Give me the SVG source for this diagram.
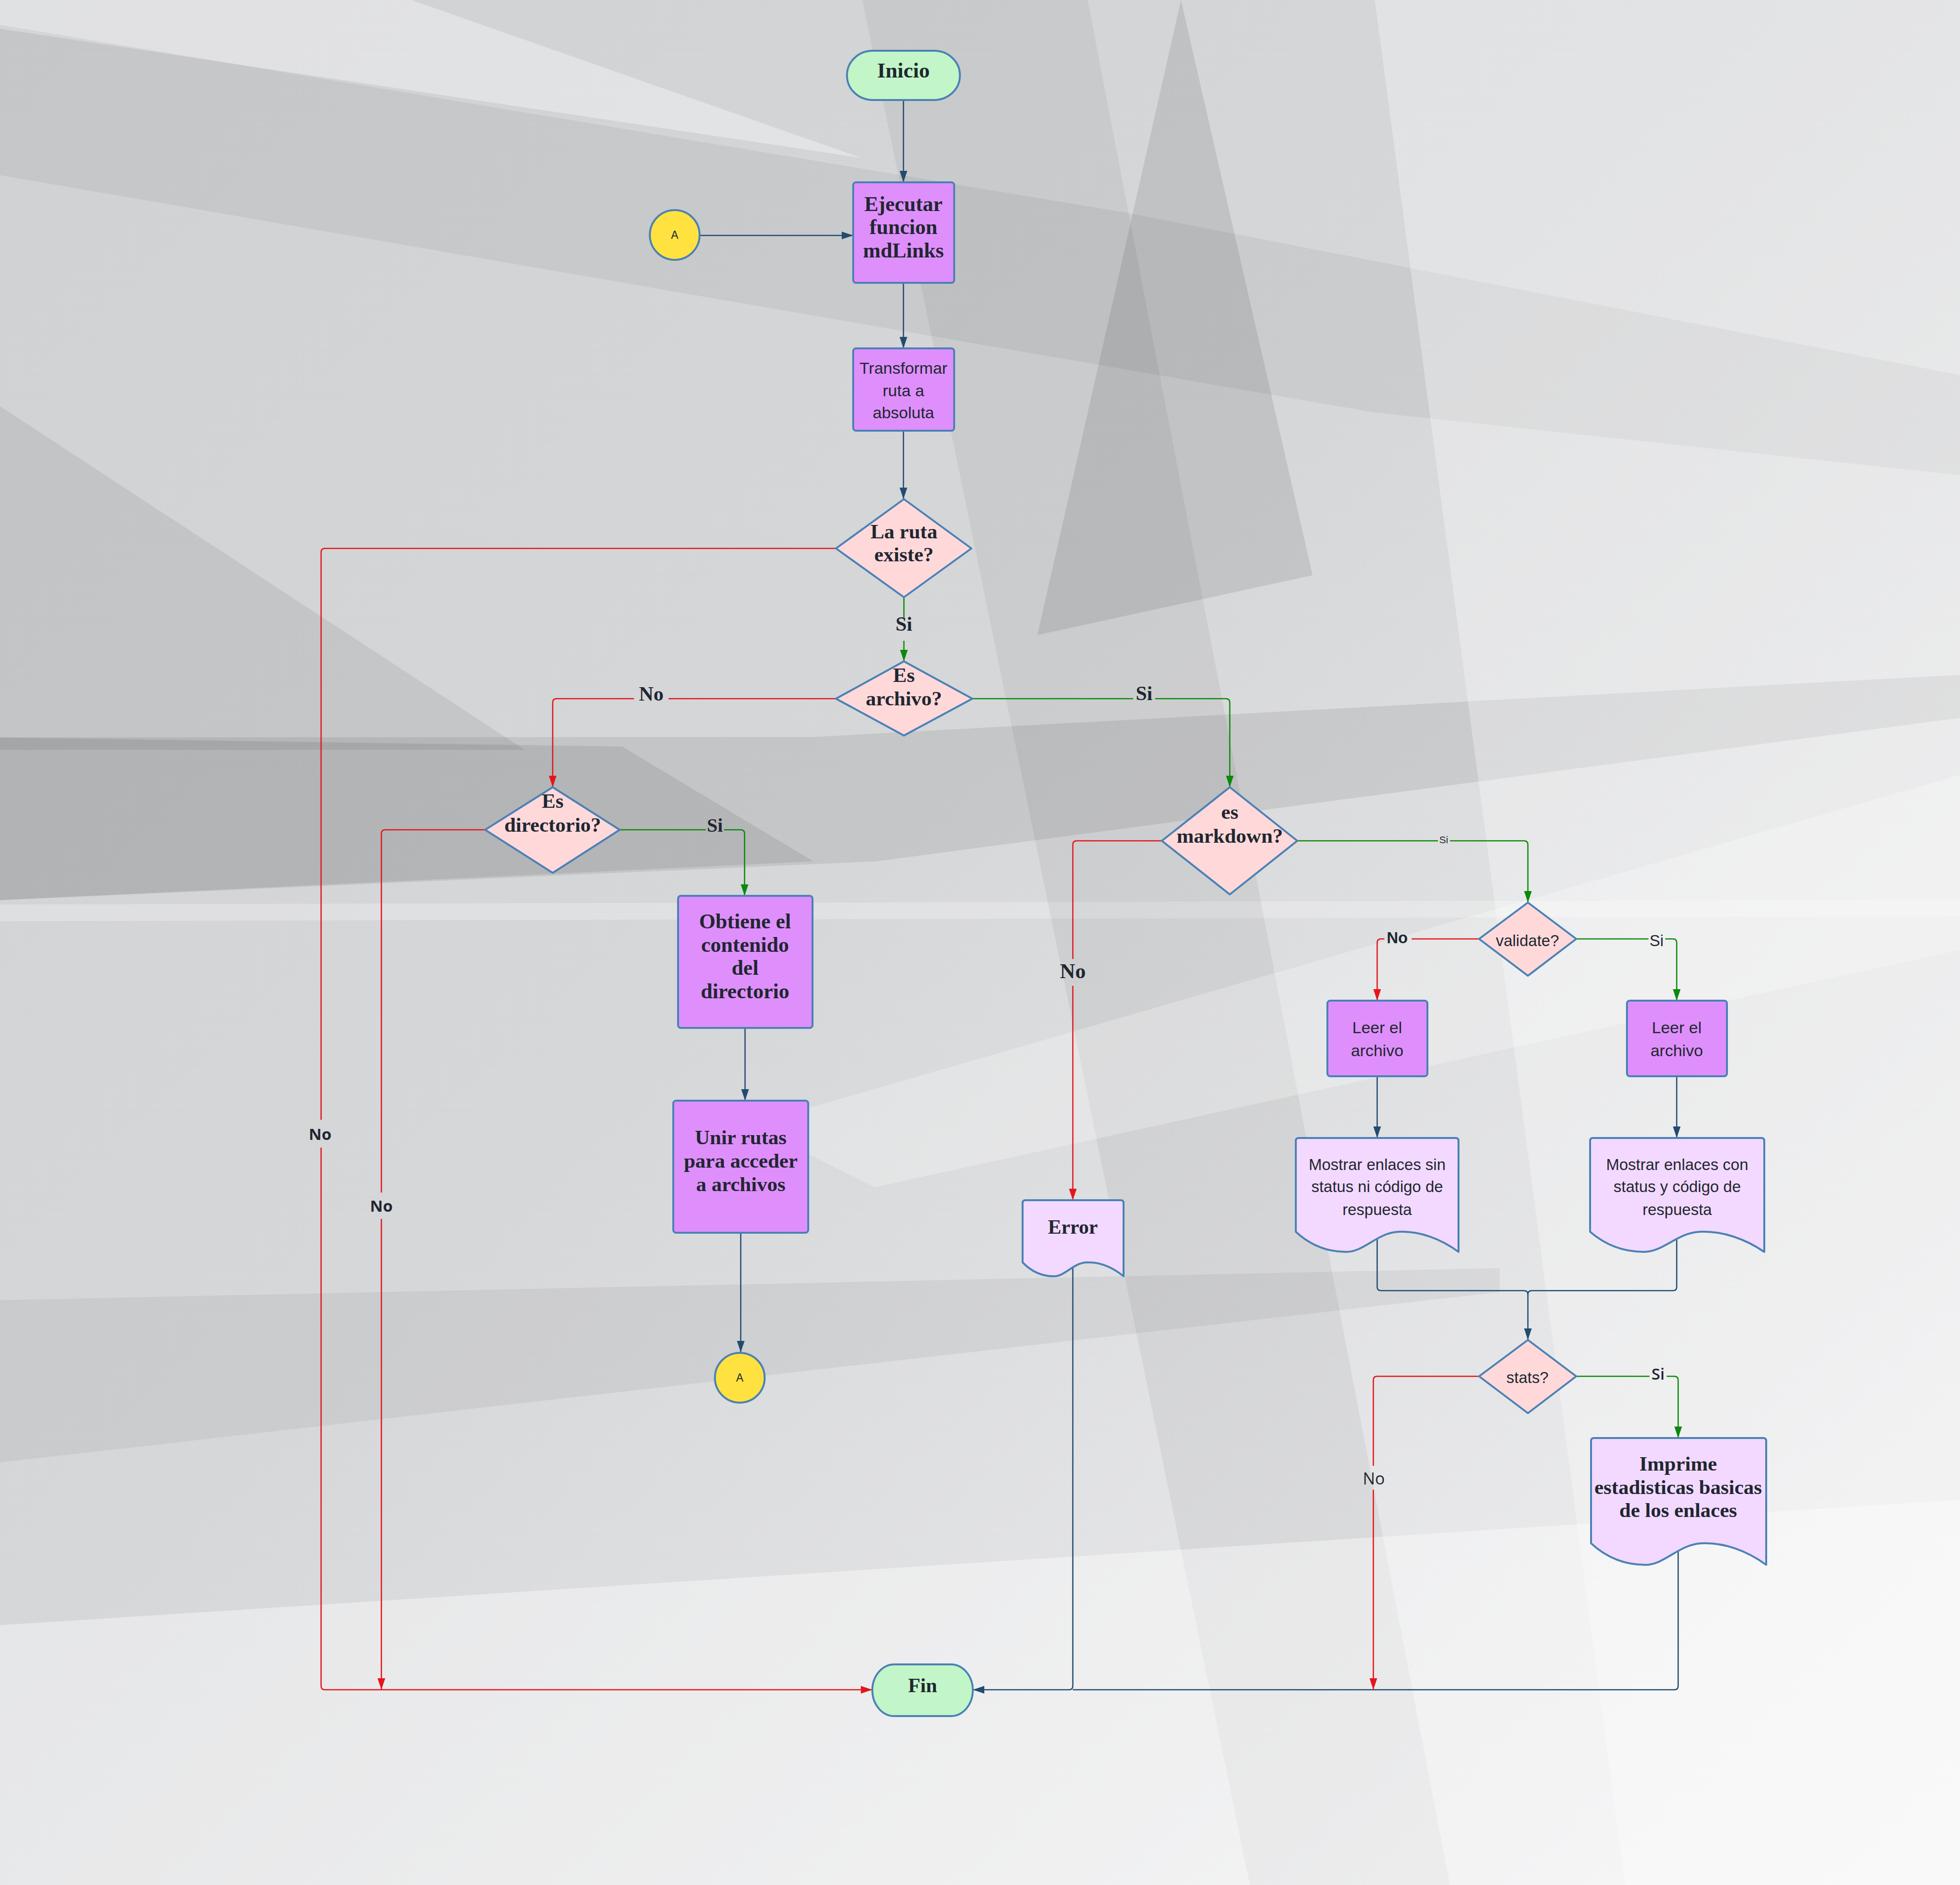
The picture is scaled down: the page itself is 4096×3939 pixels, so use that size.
<svg xmlns="http://www.w3.org/2000/svg" width="4096" height="3939" viewBox="0 0 4096 3939">
<defs>
<linearGradient id="bg" x1="0" y1="0" x2="1" y2="1">
<stop offset="0" stop-color="#d0d1d3"/>
<stop offset="0.45" stop-color="#d6d7d9"/>
<stop offset="1" stop-color="#f2f2f3"/>
</linearGradient>
<marker id="ab" markerUnits="userSpaceOnUse" markerWidth="24" markerHeight="16" refX="24" refY="8" orient="auto"><path d="M0,0 L24,8 L0,16 z" fill="#224b70"/></marker>
<marker id="ar" markerUnits="userSpaceOnUse" markerWidth="24" markerHeight="16" refX="24" refY="8" orient="auto"><path d="M0,0 L24,8 L0,16 z" fill="#e5151a"/></marker>
<marker id="ag" markerUnits="userSpaceOnUse" markerWidth="24" markerHeight="16" refX="24" refY="8" orient="auto"><path d="M0,0 L24,8 L0,16 z" fill="#0a890a"/></marker>
</defs>
<style>
.term{fill:#c2f5c7;stroke:#4a81b5;stroke-width:4}
.proc{fill:#df8ffc;stroke:#4a81b5;stroke-width:4}
.dec{fill:#ffd9da;stroke:#4a81b5;stroke-width:4;stroke-linejoin:round}
.doc{fill:#f3d9ff;stroke:#4a81b5;stroke-width:4;stroke-linejoin:round}
.con{fill:#ffe240;stroke:#4a81b5;stroke-width:4}
.tb{font-family:"Liberation Serif","DejaVu Serif",serif;font-weight:bold;fill:#1f2731;text-anchor:middle}
.ts{font-family:"Liberation Sans","DejaVu Sans",sans-serif;fill:#1f2731;text-anchor:middle}
.to{font-family:"Open Sans","Liberation Sans",sans-serif;fill:#1f2731;text-anchor:middle}
.lb{fill:none;stroke:#224b70;stroke-width:2.6}
.lr{fill:none;stroke:#e5151a;stroke-width:2.6}
.lg{fill:none;stroke:#0a890a;stroke-width:2.6}
</style>
<g id="background">
<rect x="0" y="0" width="4096" height="3939" fill="url(#bg)"/>
<polygon points="0,0 860,0 1800,330 0,60" fill="#ffffff" opacity="0.35"/>
<polygon points="0,52 0,366 2873,862 4096,993 4096,784 2351,444" fill="#000000" opacity="0.05"/>
<polygon points="0,849 0,1567 1097,1567" fill="#000000" opacity="0.07"/>
<polygon points="0,1541 0,1881 1830,1800 4096,1500 4096,1410 1700,1540" fill="#000000" opacity="0.08"/>
<polygon points="0,1541 0,1881 1700,1800 1300,1560" fill="#000000" opacity="0.08"/>
<polygon points="0,1890 4096,1880 4096,1915 0,1925" fill="#ffffff" opacity="0.25"/>
<polygon points="1802,0 2273,0 3030,3939 2612,3939" fill="#000000" opacity="0.05"/>
<polygon points="2468,0 2168,1327 2743,1202" fill="#000000" opacity="0.09"/>
<polygon points="2873,0 4096,0 4096,3939 3396,3939" fill="#ffffff" opacity="0.3"/>
<polygon points="1567,2351 4096,1619 4096,1985 1828,2481" fill="#ffffff" opacity="0.25"/>
<polygon points="0,2717 0,3056 3134,2700 3134,2650" fill="#000000" opacity="0.05"/>
<polygon points="0,3396 4096,3134 4096,3939 0,3939" fill="#ffffff" opacity="0.4"/>
</g>
<g id="connectors">
<path class="lb" d="M1888,209 V381" marker-end="url(#ab)"/>
<path class="lb" d="M1463,492 H1783" marker-end="url(#ab)"/>
<path class="lb" d="M1888,591 V728" marker-end="url(#ab)"/>
<path class="lb" d="M1888,900 V1043" marker-end="url(#ab)"/>
<path class="lb" d="M1557,2148 V2300" marker-end="url(#ab)"/>
<path class="lb" d="M1548,2576 V2826" marker-end="url(#ab)"/>
<path class="lb" d="M2878,2249 V2378" marker-end="url(#ab)"/>
<path class="lb" d="M3504,2249 V2378" marker-end="url(#ab)"/>
<path class="lb" d="M2878,2590 V2689 Q2878,2697 2886,2697 H3185 Q3193,2697 3193,2705 V2800" marker-end="url(#ab)"/>
<path class="lb" d="M3504,2585 V2689 Q3504,2697 3496,2697 H3201 Q3193,2697 3193,2705"/>
<path class="lb" d="M3507,3235 V3523 Q3507,3531 3499,3531 H2242"/>
<path class="lb" d="M2242,2645 V3523 Q2242,3531 2234,3531 H2033" marker-end="url(#ab)"/>
<path class="lr" d="M1747,1146 H679 Q671,1146 671,1154 V2340"/>
<path class="lr" d="M671,2398 V3523 Q671,3531 679,3531 H1823" marker-end="url(#ar)"/>
<path class="lr" d="M1747,1460 H1397"/>
<path class="lr" d="M1325,1460 H1163 Q1155,1460 1155,1468 V1645" marker-end="url(#ar)"/>
<path class="lr" d="M1014,1734 H805 Q797,1734 797,1742 V2492"/>
<path class="lr" d="M797,2547 V3531" marker-end="url(#ar)"/>
<path class="lr" d="M2428,1757 H2250 Q2242,1757 2242,1765 V2004"/>
<path class="lr" d="M2242,2060 V2508" marker-end="url(#ar)"/>
<path class="lr" d="M3091,1962 H2950"/>
<path class="lr" d="M2893,1962 H2886 Q2878,1962 2878,1970 V2091" marker-end="url(#ar)"/>
<path class="lr" d="M3091,2876 H2878 Q2870,2876 2870,2884 V3063"/>
<path class="lr" d="M2870,3113 V3531" marker-end="url(#ar)"/>
<path class="lg" d="M1889,1248 V1290"/>
<path class="lg" d="M1889,1339 V1382" marker-end="url(#ag)"/>
<path class="lg" d="M2032,1460 H2368"/>
<path class="lg" d="M2414,1460 H2562 Q2570,1460 2570,1468 V1645" marker-end="url(#ag)"/>
<path class="lg" d="M1295,1734 H1475"/>
<path class="lg" d="M1513,1734 H1548 Q1556,1734 1556,1742 V1872" marker-end="url(#ag)"/>
<path class="lg" d="M2711,1757 H3005"/>
<path class="lg" d="M3030,1757 H3185 Q3193,1757 3193,1765 V1886" marker-end="url(#ag)"/>
<path class="lg" d="M3294,1962 H3445"/>
<path class="lg" d="M3480,1962 H3496 Q3504,1962 3504,1970 V2091" marker-end="url(#ag)"/>
<path class="lg" d="M3294,2876 H3447"/>
<path class="lg" d="M3483,2876 H3499 Q3507,2876 3507,2884 V3005" marker-end="url(#ag)"/>
<text class="tb" x="1889" y="1318" font-size="42">Si</text>
<text class="tb" x="2391" y="1463" font-size="42">Si</text>
<text class="tb" x="1361" y="1464" font-size="42">No</text>
<text class="tb" x="1494" y="1738" font-size="40">Si</text>
<text class="to" x="669" y="2382" font-size="33" font-weight="bold">No</text>
<text class="to" x="797" y="2532" font-size="33" font-weight="bold">No</text>
<text class="tb" x="2242" y="2044" font-size="44">No</text>
<text class="ts" x="3017" y="1762" font-size="21">Si</text>
<text class="ts" x="2920" y="1971" font-size="33" font-weight="bold">No</text>
<text class="ts" x="3462" y="1977" font-size="33">Si</text>
<text class="to" x="2871" y="3102" font-size="34">No</text>
<text class="to" x="3465" y="2883" font-size="33" font-weight="600">Si</text>
</g>
<g id="inicio">
<rect class="term" x="1770" y="106" width="236" height="103" rx="54" ry="51"/>
<text class="tb" x="1888" y="162" font-size="45">Inicio</text>
</g>
<g id="ejecutar">
<rect class="proc" x="1783" y="381" width="211" height="210" rx="6"/>
<text class="tb" x="1888" y="441" font-size="44">Ejecutar</text>
<text class="tb" x="1888" y="489" font-size="44">funcion</text>
<text class="tb" x="1888" y="538" font-size="44">mdLinks</text>
</g>
<g id="conector-a1">
<circle class="con" cx="1410" cy="491" r="52"/>
<text class="ts" x="1410" y="499" font-size="23">A</text>
</g>
<g id="transformar">
<rect class="proc" x="1783" y="728" width="211" height="172" rx="6"/>
<text class="ts" x="1888" y="781" font-size="34">Transformar</text>
<text class="ts" x="1888" y="828" font-size="34">ruta a</text>
<text class="ts" x="1888" y="874" font-size="34">absoluta</text>
</g>
<g id="ruta-existe">
<polygon class="dec" points="1889,1043 2030,1146 1889,1248 1747,1146"/>
<text class="tb" x="1889" y="1125" font-size="43">La ruta</text>
<text class="tb" x="1889" y="1173" font-size="43">existe?</text>
</g>
<g id="es-archivo">
<polygon class="dec" points="1889,1382 2032,1460 1889,1537 1747,1460"/>
<text class="tb" x="1889" y="1425" font-size="43">Es</text>
<text class="tb" x="1889" y="1474" font-size="43">archivo?</text>
</g>
<g id="es-directorio">
<polygon class="dec" points="1155,1645 1295,1734 1155,1824 1014,1734"/>
<text class="tb" x="1155" y="1688" font-size="43">Es</text>
<text class="tb" x="1155" y="1738" font-size="43">directorio?</text>
</g>
<g id="obtiene">
<rect class="proc" x="1417" y="1872" width="281" height="276" rx="6"/>
<text class="tb" x="1557" y="1940" font-size="44">Obtiene el</text>
<text class="tb" x="1557" y="1989" font-size="44">contenido</text>
<text class="tb" x="1557" y="2037" font-size="44">del</text>
<text class="tb" x="1557" y="2086" font-size="44">directorio</text>
</g>
<g id="unir-rutas">
<rect class="proc" x="1407" y="2300" width="282" height="276" rx="6"/>
<text class="tb" x="1548" y="2391" font-size="43">Unir rutas</text>
<text class="tb" x="1548" y="2440" font-size="43">para acceder</text>
<text class="tb" x="1548" y="2489" font-size="43">a archivos</text>
</g>
<g id="conector-a2">
<circle class="con" cx="1546" cy="2879" r="52"/>
<text class="ts" x="1546" y="2887" font-size="23">A</text>
</g>
<g id="es-markdown">
<polygon class="dec" points="2570,1645 2711,1757 2570,1869 2428,1757"/>
<text class="tb" x="2570" y="1711" font-size="43">es</text>
<text class="tb" x="2570" y="1761" font-size="43">markdown?</text>
</g>
<g id="error">
<path class="doc" d="M2137,2514 Q2137,2508 2143,2508 H2342 Q2348,2508 2348,2514 V2667 C2324.8,2648.2 2297.4,2636.6 2269.9,2638 C2242.5,2639.5 2225.6,2667 2202.4,2667 C2175,2667 2153.9,2655.4 2137,2638 Z"/>
<text class="tb" x="2242" y="2578" font-size="42">Error</text>
</g>
<g id="validate">
<polygon class="dec" points="3193,1886 3294,1962 3193,2039 3091,1962"/>
<text class="ts" x="3192" y="1977" font-size="33">validate?</text>
</g>
<g id="leer-1">
<rect class="proc" x="2774" y="2091" width="209" height="158" rx="6"/>
<text class="ts" x="2878" y="2159" font-size="34">Leer el</text>
<text class="ts" x="2878" y="2207" font-size="34">archivo</text>
</g>
<g id="leer-2">
<rect class="proc" x="3400" y="2091" width="209" height="158" rx="6"/>
<text class="ts" x="3504" y="2159" font-size="34">Leer el</text>
<text class="ts" x="3504" y="2207" font-size="34">archivo</text>
</g>
<g id="mostrar-sin">
<path class="doc" d="M2708,2384 Q2708,2378 2714,2378 H3042 Q3048,2378 3048,2384 V2616 C3010.6,2588.7 2966.4,2571.9 2922.2,2574 C2878,2576.1 2850.8,2616 2813.4,2616 C2769.2,2616 2735.2,2599.2 2708,2574 Z"/>
<text class="ts" x="2878" y="2445" font-size="33">Mostrar enlaces sin</text>
<text class="ts" x="2878" y="2491" font-size="33">status ni código de</text>
<text class="ts" x="2878" y="2539" font-size="33">respuesta</text>
</g>
<g id="mostrar-con">
<path class="doc" d="M3323,2384 Q3323,2378 3329,2378 H3681 Q3687,2378 3687,2384 V2616 C3647,2588.7 3599.6,2571.9 3552.3,2574 C3505,2576.1 3475.9,2616 3435.8,2616 C3388.5,2616 3352.1,2599.2 3323,2574 Z"/>
<text class="ts" x="3505" y="2445" font-size="33">Mostrar enlaces con</text>
<text class="ts" x="3505" y="2491" font-size="33">status y código de</text>
<text class="ts" x="3505" y="2539" font-size="33">respuesta</text>
</g>
<g id="stats">
<polygon class="dec" points="3193,2800 3294,2876 3193,2953 3091,2876"/>
<text class="ts" x="3192" y="2890" font-size="33">stats?</text>
</g>
<g id="imprime">
<path class="doc" d="M3325,3011 Q3325,3005 3331,3005 H3685 Q3691,3005 3691,3011 V3270 C3650.7,3240.8 3603.2,3222.8 3555.6,3225 C3508,3227.3 3478.7,3270 3438.5,3270 C3390.9,3270 3354.3,3252 3325,3225 Z"/>
<text class="tb" x="3507" y="3073" font-size="43">Imprime</text>
<text class="tb" x="3507" y="3122" font-size="43">estadisticas basicas</text>
<text class="tb" x="3507" y="3170" font-size="43">de los enlaces</text>
</g>
<g id="fin">
<rect class="term" x="1823" y="3478" width="210" height="108" rx="46" ry="54"/>
<text class="tb" x="1928" y="3536" font-size="42">Fin</text>
</g>
</svg>
